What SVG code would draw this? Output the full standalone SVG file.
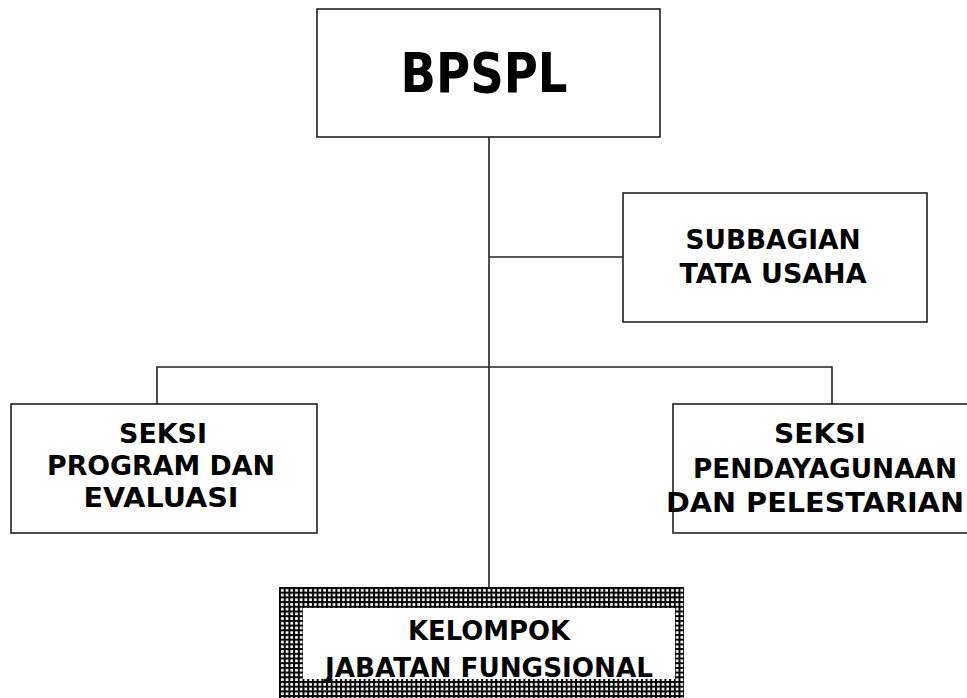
<svg xmlns="http://www.w3.org/2000/svg" width="967" height="698" viewBox="0 0 967 698">
<style>
.box{fill:#fff;stroke:#222;stroke-width:1.6}
.con{fill:none;stroke:#222;stroke-width:1.6}
.t{font-family:"DejaVu Sans","Verdana",sans-serif;font-weight:bold;font-size:27px;text-anchor:middle;fill:#000}
.big{font-size:55px}
</style>
<defs>
<pattern id="hatch" x="279" y="587" width="4.7" height="4.7" patternUnits="userSpaceOnUse">
<rect width="4.7" height="4.7" fill="#fff"/>
<rect x="0" y="0" width="2" height="4.7" fill="#000"/>
<rect x="0" y="0" width="4.7" height="2" fill="#000"/>
</pattern>
</defs>
<rect width="967" height="698" fill="#fff"/>
<g id="connectors">
<line class="con" x1="489" y1="137" x2="489" y2="587"/>
<line class="con" x1="489" y1="257" x2="623" y2="257"/>
<polyline class="con" points="157,404 157,367 832,367 832,404"/>
</g>
<g id="bpspl">
<rect class="box" x="317" y="9" width="343" height="128"/>
<text class="t big" x="484" y="92" textLength="167" lengthAdjust="spacingAndGlyphs">BPSPL</text>
</g>
<g id="subbagian">
<rect class="box" x="623" y="193" width="304" height="129"/>
<text class="t" x="773" y="249" textLength="175" lengthAdjust="spacingAndGlyphs">SUBBAGIAN</text>
<text class="t" x="773" y="283" textLength="187" lengthAdjust="spacingAndGlyphs">TATA USAHA</text>
</g>
<g id="seksi-program">
<rect class="box" x="11" y="404" width="306" height="129"/>
<text class="t" x="163" y="443" textLength="88" lengthAdjust="spacingAndGlyphs">SEKSI</text>
<text class="t" x="161" y="475" textLength="228" lengthAdjust="spacingAndGlyphs">PROGRAM DAN</text>
<text class="t" x="161" y="507" textLength="155" lengthAdjust="spacingAndGlyphs">EVALUASI</text>
</g>
<g id="seksi-pendayagunaan">
<rect class="box" x="673" y="404" width="310" height="129"/>
<text class="t" x="820" y="443" textLength="92" lengthAdjust="spacingAndGlyphs">SEKSI</text>
<text class="t" x="825" y="478" textLength="264" lengthAdjust="spacingAndGlyphs">PENDAYAGUNAAN</text>
<text class="t" x="815" y="512" textLength="298" lengthAdjust="spacingAndGlyphs">DAN PELESTARIAN</text>
</g>
<g id="kelompok">
<rect x="279" y="587" width="405" height="115" fill="url(#hatch)"/>
<rect x="303" y="608" width="372" height="71" fill="#fff"/>
<text class="t" x="489" y="640" textLength="162" lengthAdjust="spacingAndGlyphs">KELOMPOK</text>
<text class="t" x="489" y="677" textLength="328" lengthAdjust="spacingAndGlyphs">JABATAN FUNGSIONAL</text>
</g>
</svg>
